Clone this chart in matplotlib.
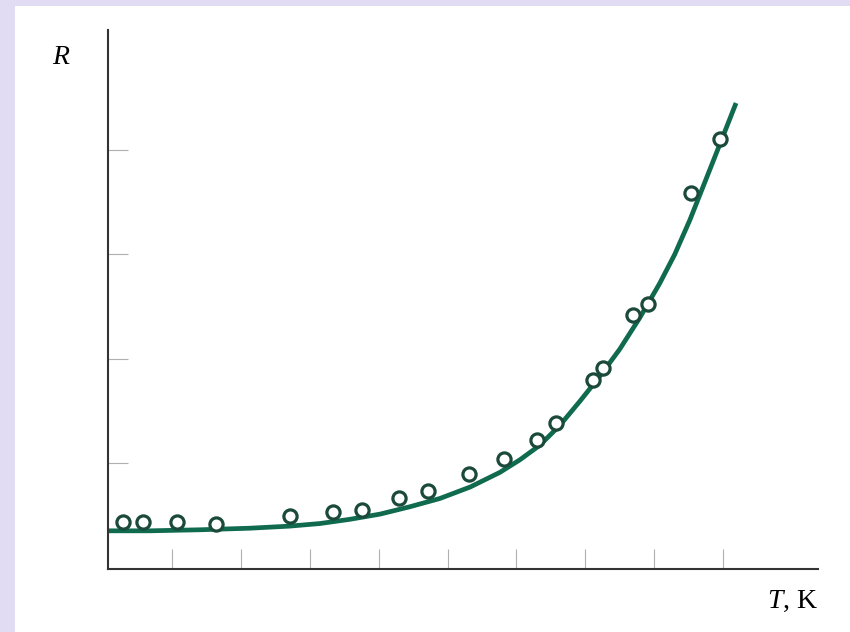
import matplotlib.pyplot as plt
from matplotlib.patches import Rectangle

# measured points (T in tick units, R in tick units)
temp = [0.29, 0.58, 1.07, 1.64, 2.71, 3.34, 3.76, 4.30, 4.72, 5.31,
        5.82, 6.30, 6.58, 7.11, 7.26, 7.69, 7.91, 8.53, 8.95]
res = [0.43, 0.43, 0.43, 0.42, 0.49, 0.53, 0.55, 0.66, 0.73, 0.89,
       1.04, 1.22, 1.38, 1.80, 1.91, 2.42, 2.52, 3.59, 4.11]

# fitted curve
curve_t = [0.07, 0.68, 1.41, 2.13, 2.71, 3.15, 3.58, 4.02, 4.45, 4.89,
           5.33, 5.76, 6.05, 6.34, 6.63, 6.92, 7.21, 7.50, 7.79, 8.08,
           8.30, 8.52, 8.85, 9.19]
curve_r = [0.35, 0.35, 0.36, 0.375, 0.395, 0.42, 0.46, 0.51, 0.58, 0.66,
           0.77, 0.91, 1.03, 1.17, 1.36, 1.59, 1.83, 2.09, 2.39, 2.72,
           3.00, 3.33, 3.88, 4.45]

x_ticks = [1, 2, 3, 4, 5, 6, 7, 8, 9]
y_ticks = [1, 2, 3, 4]

plt.rcParams['mathtext.fontset'] = 'custom'
plt.rcParams['mathtext.it'] = 'Liberation Serif:italic'
plt.rcParams['mathtext.rm'] = 'Liberation Serif'

fig = plt.figure(figsize=(8.5, 6.32), dpi=100, facecolor='#e2dbf4')
fig.patches.append(Rectangle((15/850, 0), 1, 1 - 6/632, transform=fig.transFigure,
                             facecolor='white', edgecolor='none', zorder=-1))

ax = fig.add_axes([108/850, 1 - 569/632, 710/850, 539/632])
ax.set_facecolor('none')

ax.plot(curve_t, curve_r, color='#0f6a4e', lw=3.4, solid_capstyle='butt',
        solid_joinstyle='round', zorder=2)
ax.plot(temp, res, 'o', ms=9.5, mfc='white', mec='#1b4a3b', mew=2.3, zorder=3)

ax.set_xlim(0.07, 10.38)
ax.set_ylim(-0.016, 5.15)
ax.set_xticks(x_ticks)
ax.set_yticks(y_ticks)
ax.tick_params(direction='in', length=14.5, width=0.8, color='#b0b0b0',
               labelbottom=False, labelleft=False)

for s in ['top', 'right']:
    ax.spines[s].set_visible(False)
for s in ['left', 'bottom']:
    ax.spines[s].set_color('#333333')
    ax.spines[s].set_linewidth(1.5)

fig.text(61/850, 1 - 64/632, '$R$', fontsize=20, ha='center', va='baseline',
         family='Liberation Serif')
fig.text(818/850, 1 - 608/632, '$T$, K', fontsize=20, ha='right', va='baseline',
         family='Liberation Serif')

fig.savefig('out.png', dpi=100)
